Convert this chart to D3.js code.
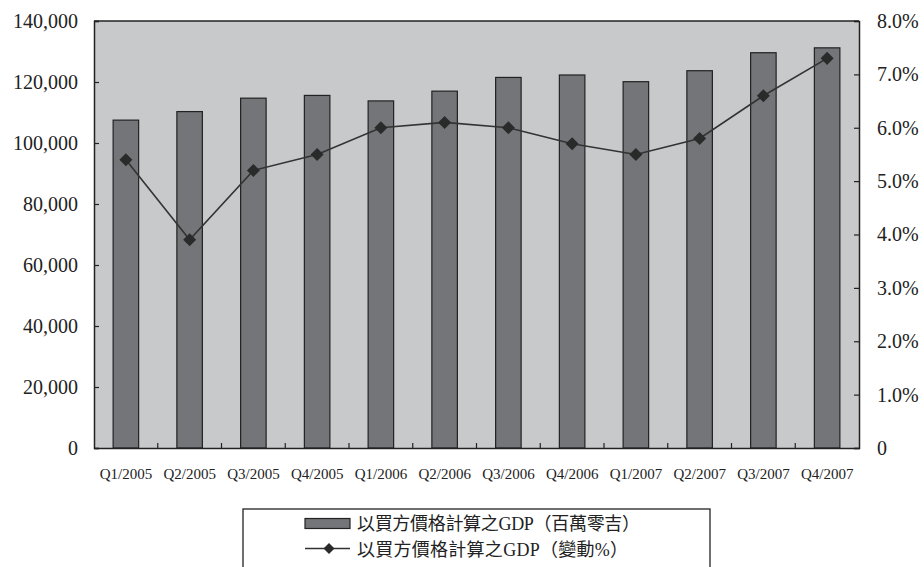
<!DOCTYPE html>
<html>
<head>
<meta charset="utf-8">
<script src="https://cdn.jsdelivr.net/npm/d3@7"></script>
<style>
  body { margin: 0; background: #fff; }
  svg text { font-family: "Liberation Serif", "Noto Sans CJK TC", serif; fill: #222; }
</style>
</head>
<body>
<div id="chart"></div>
<script>
const quarters = ["Q1/2005", "Q2/2005", "Q3/2005", "Q4/2005", "Q1/2006", "Q2/2006",
  "Q3/2006", "Q4/2006", "Q1/2007", "Q2/2007", "Q3/2007", "Q4/2007"];
const gdpValues = [107500, 110300, 114700, 115600, 113800, 117000,
  121500, 122300, 120100, 123700, 129600, 131200];
const growthValues = [5.4, 3.9, 5.2, 5.5, 6.0, 6.1, 6.0, 5.7, 5.5, 5.8, 6.6, 7.3];
const leftTicks = [0, 20000, 40000, 60000, 80000, 100000, 120000, 140000];
const rightTicks = [0, 1, 2, 3, 4, 5, 6, 7, 8];
const seriesNames = ["以買方價格計算之GDP（百萬零吉）", "以買方價格計算之GDP（變動%）"];

const margin = { top: 21, right: 65, bottom: 119, left: 94 },
  width = 924 - margin.left - margin.right,
  height = 567 - margin.top - margin.bottom;

const svgRoot = d3.select("#chart").append("svg")
  .attr("width", 924).attr("height", 567);
const svg = svgRoot.append("g")
  .attr("transform", "translate(" + margin.left + "," + margin.top + ")");

const x = d3.scaleBand().domain(quarters).range([0, width]).paddingInner(0.6).paddingOuter(0.3);
const xBand = d3.scaleBand().domain(quarters).range([0, width]);
const yLeft = d3.scaleLinear().domain([0, 140000]).range([height, 0]);
const yRight = d3.scaleLinear().domain([0, 8]).range([height, 0]);

// plot background
svg.append("rect")
  .attr("width", width).attr("height", height)
  .attr("fill", "#c8c9cb");

// bars
svg.append("g").selectAll("rect")
  .data(quarters)
  .enter().append("rect")
  .attr("x", (d) => xBand(d) + xBand.bandwidth() / 2 - x.bandwidth() / 2)
  .attr("y", (d, i) => yLeft(gdpValues[i]))
  .attr("width", x.bandwidth())
  .attr("height", (d, i) => height - yLeft(gdpValues[i]))
  .attr("fill", "#747578")
  .attr("stroke", "#222")
  .attr("stroke-width", 1.2);

// top border
svg.append("line").attr("x1", 0).attr("x2", width).attr("y1", 0).attr("y2", 0)
  .attr("stroke", "#222").attr("stroke-width", 1.5);

// left axis
const axLeft = svg.append("g")
  .call(d3.axisLeft(yLeft).tickValues(leftTicks).tickSize(-5).tickPadding(16)
    .tickFormat(d3.format(",")));
// right axis
const axRight = svg.append("g").attr("transform", "translate(" + width + ",0)")
  .call(d3.axisRight(yRight).tickValues(rightTicks).tickSize(-5).tickPadding(18)
    .tickFormat((d) => d === 0 ? "0" : d3.format(".1f")(d) + "%"));
// bottom axis with ticks between categories
const axBottom = svg.append("g").attr("transform", "translate(0," + height + ")")
  .call(d3.axisBottom(xBand).tickSize(0).tickPadding(20));
svg.append("g").selectAll("line")
  .data(quarters.slice(1))
  .enter().append("line")
  .attr("x1", (d) => xBand(d)).attr("x2", (d) => xBand(d))
  .attr("y1", height).attr("y2", height - 5)
  .attr("stroke", "#222").attr("stroke-width", 1.2);

[axLeft, axRight, axBottom].forEach(function (ax) {
  ax.select(".domain").attr("stroke", "#222").attr("stroke-width", 1.5);
  ax.selectAll(".tick line").attr("stroke", "#222").attr("stroke-width", 1.2);
  ax.selectAll("text").attr("fill", "#222");
});
axLeft.selectAll("text").attr("font-size", 20);
axRight.selectAll("text").attr("font-size", 20).attr("text-anchor", "start");
axBottom.selectAll("text").attr("font-size", 15);

// line
const line = d3.line()
  .x((d, i) => xBand(quarters[i]) + xBand.bandwidth() / 2)
  .y((d) => yRight(d));
svg.append("path").datum(growthValues)
  .attr("d", line)
  .attr("fill", "none")
  .attr("stroke", "#333")
  .attr("stroke-width", 1.6);

const diamond = d3.symbol().type(d3.symbolSquare).size(85);
svg.append("g").selectAll("path")
  .data(growthValues)
  .enter().append("path")
  .attr("d", diamond)
  .attr("transform", (d, i) => "translate(" + (xBand(quarters[i]) + xBand.bandwidth() / 2) +
    "," + yRight(d) + ") rotate(45)")
  .attr("fill", "#2a2a2a");

// legend
const legend = svgRoot.append("g").attr("transform", "translate(243,509)");
legend.append("rect")
  .attr("width", 467).attr("height", 62)
  .attr("fill", "#fff").attr("stroke", "#222").attr("stroke-width", 1.3);
legend.append("rect")
  .attr("x", 62).attr("y", 9.5).attr("width", 45).attr("height", 10)
  .attr("fill", "#747578").attr("stroke", "#222").attr("stroke-width", 1.2);
legend.append("line")
  .attr("x1", 62).attr("x2", 107).attr("y1", 39.5).attr("y2", 39.5)
  .attr("stroke", "#333").attr("stroke-width", 1.6);
legend.append("path")
  .attr("d", d3.symbol().type(d3.symbolSquare).size(60))
  .attr("transform", "translate(86,39.5) rotate(45)")
  .attr("fill", "#2a2a2a");
legend.selectAll("text.item")
  .data(seriesNames)
  .enter().append("text")
  .attr("class", "item")
  .attr("x", 114)
  .attr("y", (d, i) => 14.5 + i * 26.5)
  .attr("dy", "0.35em")
  .attr("font-size", 18)
  .attr("textLength", (d, i) => (i === 0 ? 283 : 271))
  .attr("lengthAdjust", "spacing")
  .text((d) => d);
</script>
</body>
</html>
